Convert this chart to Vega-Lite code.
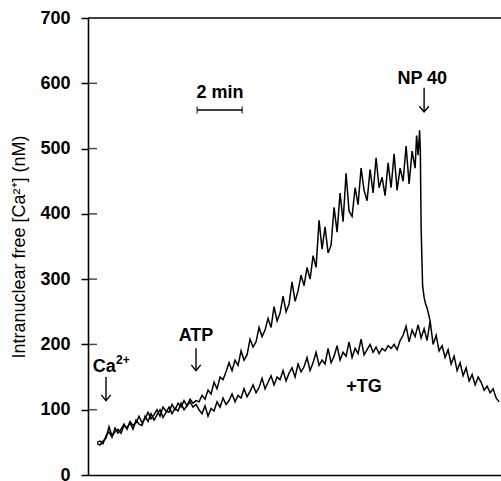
{
  "$schema": "https://vega.github.io/schema/vega-lite/v6.json",
  "width": 413,
  "height": 457,
  "autosize": {"type": "none"},
  "padding": {"left": 88, "top": 18, "right": 0, "bottom": 6},
  "background": "white",
  "config": {
    "view": {"stroke": null},
    "font": "Liberation Sans"
  },
  "datasets": {
    "trace": [
      {"s": "ATP", "t": 24, "v": 50}, {"s": "ATP", "t": 32, "v": 52}, {"s": "ATP", "t": 40, "v": 48}, {"s": "ATP", "t": 48, "v": 60},
      {"s": "ATP", "t": 56, "v": 66}, {"s": "ATP", "t": 64, "v": 58}, {"s": "ATP", "t": 72, "v": 72}, {"s": "ATP", "t": 80, "v": 64},
      {"s": "ATP", "t": 88, "v": 70}, {"s": "ATP", "t": 96, "v": 78}, {"s": "ATP", "t": 104, "v": 70}, {"s": "ATP", "t": 112, "v": 82},
      {"s": "ATP", "t": 120, "v": 76}, {"s": "ATP", "t": 128, "v": 80}, {"s": "ATP", "t": 136, "v": 90}, {"s": "ATP", "t": 144, "v": 80},
      {"s": "ATP", "t": 152, "v": 86}, {"s": "ATP", "t": 160, "v": 96}, {"s": "ATP", "t": 168, "v": 86}, {"s": "ATP", "t": 176, "v": 92},
      {"s": "ATP", "t": 184, "v": 100}, {"s": "ATP", "t": 192, "v": 90}, {"s": "ATP", "t": 200, "v": 104}, {"s": "ATP", "t": 208, "v": 98},
      {"s": "ATP", "t": 216, "v": 96}, {"s": "ATP", "t": 224, "v": 108}, {"s": "ATP", "t": 232, "v": 100}, {"s": "ATP", "t": 240, "v": 110},
      {"s": "ATP", "t": 248, "v": 104}, {"s": "ATP", "t": 256, "v": 114}, {"s": "ATP", "t": 264, "v": 106}, {"s": "ATP", "t": 272, "v": 116},
      {"s": "ATP", "t": 280, "v": 110}, {"s": "ATP", "t": 288, "v": 114}, {"s": "ATP", "t": 296, "v": 112}, {"s": "ATP", "t": 304, "v": 122},
      {"s": "ATP", "t": 312, "v": 116}, {"s": "ATP", "t": 320, "v": 130}, {"s": "ATP", "t": 328, "v": 124}, {"s": "ATP", "t": 336, "v": 142},
      {"s": "ATP", "t": 344, "v": 132}, {"s": "ATP", "t": 352, "v": 150}, {"s": "ATP", "t": 360, "v": 146}, {"s": "ATP", "t": 368, "v": 158},
      {"s": "ATP", "t": 376, "v": 172}, {"s": "ATP", "t": 384, "v": 160}, {"s": "ATP", "t": 392, "v": 176}, {"s": "ATP", "t": 400, "v": 168},
      {"s": "ATP", "t": 408, "v": 190}, {"s": "ATP", "t": 416, "v": 176}, {"s": "ATP", "t": 424, "v": 184}, {"s": "ATP", "t": 432, "v": 208},
      {"s": "ATP", "t": 440, "v": 196}, {"s": "ATP", "t": 448, "v": 204}, {"s": "ATP", "t": 456, "v": 226}, {"s": "ATP", "t": 464, "v": 212},
      {"s": "ATP", "t": 472, "v": 222}, {"s": "ATP", "t": 480, "v": 240}, {"s": "ATP", "t": 488, "v": 226}, {"s": "ATP", "t": 496, "v": 258},
      {"s": "ATP", "t": 504, "v": 236}, {"s": "ATP", "t": 512, "v": 248}, {"s": "ATP", "t": 520, "v": 274}, {"s": "ATP", "t": 528, "v": 250},
      {"s": "ATP", "t": 536, "v": 262}, {"s": "ATP", "t": 544, "v": 296}, {"s": "ATP", "t": 552, "v": 266}, {"s": "ATP", "t": 560, "v": 282},
      {"s": "ATP", "t": 568, "v": 306}, {"s": "ATP", "t": 576, "v": 290}, {"s": "ATP", "t": 584, "v": 318}, {"s": "ATP", "t": 592, "v": 300},
      {"s": "ATP", "t": 600, "v": 336}, {"s": "ATP", "t": 608, "v": 318}, {"s": "ATP", "t": 616, "v": 390}, {"s": "ATP", "t": 624, "v": 346},
      {"s": "ATP", "t": 632, "v": 380}, {"s": "ATP", "t": 640, "v": 340}, {"s": "ATP", "t": 648, "v": 352}, {"s": "ATP", "t": 656, "v": 410},
      {"s": "ATP", "t": 664, "v": 372}, {"s": "ATP", "t": 672, "v": 432}, {"s": "ATP", "t": 680, "v": 388}, {"s": "ATP", "t": 688, "v": 462},
      {"s": "ATP", "t": 696, "v": 404}, {"s": "ATP", "t": 704, "v": 396}, {"s": "ATP", "t": 712, "v": 440}, {"s": "ATP", "t": 720, "v": 414},
      {"s": "ATP", "t": 728, "v": 470}, {"s": "ATP", "t": 736, "v": 436}, {"s": "ATP", "t": 744, "v": 420}, {"s": "ATP", "t": 752, "v": 468},
      {"s": "ATP", "t": 760, "v": 432}, {"s": "ATP", "t": 768, "v": 486}, {"s": "ATP", "t": 776, "v": 440}, {"s": "ATP", "t": 784, "v": 456},
      {"s": "ATP", "t": 792, "v": 428}, {"s": "ATP", "t": 800, "v": 478}, {"s": "ATP", "t": 808, "v": 440}, {"s": "ATP", "t": 816, "v": 492},
      {"s": "ATP", "t": 824, "v": 436}, {"s": "ATP", "t": 832, "v": 470}, {"s": "ATP", "t": 840, "v": 450}, {"s": "ATP", "t": 848, "v": 504},
      {"s": "ATP", "t": 856, "v": 446}, {"s": "ATP", "t": 864, "v": 496}, {"s": "ATP", "t": 872, "v": 470}, {"s": "ATP", "t": 876, "v": 520},
      {"s": "ATP", "t": 880, "v": 490}, {"s": "ATP", "t": 884, "v": 528}, {"s": "ATP", "t": 886, "v": 496}, {"s": "ATP", "t": 888, "v": 380},
      {"s": "ATP", "t": 892, "v": 290}, {"s": "ATP", "t": 896, "v": 272}, {"s": "ATP", "t": 900, "v": 262}, {"s": "ATP", "t": 904, "v": 256},
      {"s": "ATP", "t": 912, "v": 236},

      {"s": "TG", "t": 24, "v": 48}, {"s": "TG", "t": 32, "v": 46}, {"s": "TG", "t": 40, "v": 52}, {"s": "TG", "t": 48, "v": 56},
      {"s": "TG", "t": 56, "v": 74}, {"s": "TG", "t": 64, "v": 60}, {"s": "TG", "t": 72, "v": 66}, {"s": "TG", "t": 80, "v": 70},
      {"s": "TG", "t": 88, "v": 64}, {"s": "TG", "t": 96, "v": 76}, {"s": "TG", "t": 104, "v": 72}, {"s": "TG", "t": 112, "v": 80},
      {"s": "TG", "t": 120, "v": 70}, {"s": "TG", "t": 128, "v": 84}, {"s": "TG", "t": 136, "v": 78}, {"s": "TG", "t": 144, "v": 76},
      {"s": "TG", "t": 152, "v": 90}, {"s": "TG", "t": 160, "v": 82}, {"s": "TG", "t": 168, "v": 94}, {"s": "TG", "t": 176, "v": 84},
      {"s": "TG", "t": 184, "v": 92}, {"s": "TG", "t": 192, "v": 100}, {"s": "TG", "t": 200, "v": 88}, {"s": "TG", "t": 208, "v": 96},
      {"s": "TG", "t": 216, "v": 104}, {"s": "TG", "t": 224, "v": 94}, {"s": "TG", "t": 232, "v": 102}, {"s": "TG", "t": 240, "v": 98},
      {"s": "TG", "t": 248, "v": 110}, {"s": "TG", "t": 256, "v": 100}, {"s": "TG", "t": 264, "v": 106}, {"s": "TG", "t": 272, "v": 112},
      {"s": "TG", "t": 280, "v": 104}, {"s": "TG", "t": 288, "v": 108}, {"s": "TG", "t": 296, "v": 100}, {"s": "TG", "t": 304, "v": 94},
      {"s": "TG", "t": 312, "v": 106}, {"s": "TG", "t": 320, "v": 90}, {"s": "TG", "t": 328, "v": 102}, {"s": "TG", "t": 336, "v": 98},
      {"s": "TG", "t": 344, "v": 112}, {"s": "TG", "t": 352, "v": 104}, {"s": "TG", "t": 360, "v": 118}, {"s": "TG", "t": 368, "v": 108},
      {"s": "TG", "t": 376, "v": 114}, {"s": "TG", "t": 384, "v": 124}, {"s": "TG", "t": 392, "v": 112}, {"s": "TG", "t": 400, "v": 122},
      {"s": "TG", "t": 408, "v": 118}, {"s": "TG", "t": 416, "v": 132}, {"s": "TG", "t": 424, "v": 120}, {"s": "TG", "t": 432, "v": 128},
      {"s": "TG", "t": 440, "v": 138}, {"s": "TG", "t": 448, "v": 126}, {"s": "TG", "t": 456, "v": 134}, {"s": "TG", "t": 464, "v": 148},
      {"s": "TG", "t": 472, "v": 132}, {"s": "TG", "t": 480, "v": 142}, {"s": "TG", "t": 488, "v": 152}, {"s": "TG", "t": 496, "v": 138},
      {"s": "TG", "t": 504, "v": 150}, {"s": "TG", "t": 512, "v": 146}, {"s": "TG", "t": 520, "v": 160}, {"s": "TG", "t": 528, "v": 144},
      {"s": "TG", "t": 536, "v": 156}, {"s": "TG", "t": 544, "v": 164}, {"s": "TG", "t": 552, "v": 150}, {"s": "TG", "t": 560, "v": 170},
      {"s": "TG", "t": 568, "v": 158}, {"s": "TG", "t": 576, "v": 166}, {"s": "TG", "t": 584, "v": 180}, {"s": "TG", "t": 592, "v": 160},
      {"s": "TG", "t": 600, "v": 172}, {"s": "TG", "t": 608, "v": 188}, {"s": "TG", "t": 616, "v": 168}, {"s": "TG", "t": 624, "v": 176},
      {"s": "TG", "t": 632, "v": 170}, {"s": "TG", "t": 640, "v": 194}, {"s": "TG", "t": 648, "v": 172}, {"s": "TG", "t": 656, "v": 182},
      {"s": "TG", "t": 664, "v": 198}, {"s": "TG", "t": 672, "v": 176}, {"s": "TG", "t": 680, "v": 188}, {"s": "TG", "t": 688, "v": 182},
      {"s": "TG", "t": 696, "v": 204}, {"s": "TG", "t": 704, "v": 180}, {"s": "TG", "t": 712, "v": 194}, {"s": "TG", "t": 720, "v": 186},
      {"s": "TG", "t": 728, "v": 208}, {"s": "TG", "t": 736, "v": 184}, {"s": "TG", "t": 744, "v": 192}, {"s": "TG", "t": 752, "v": 200},
      {"s": "TG", "t": 760, "v": 188}, {"s": "TG", "t": 768, "v": 196}, {"s": "TG", "t": 776, "v": 186}, {"s": "TG", "t": 784, "v": 194},
      {"s": "TG", "t": 792, "v": 190}, {"s": "TG", "t": 800, "v": 198}, {"s": "TG", "t": 808, "v": 194}, {"s": "TG", "t": 816, "v": 200},
      {"s": "TG", "t": 824, "v": 192}, {"s": "TG", "t": 832, "v": 206}, {"s": "TG", "t": 840, "v": 214}, {"s": "TG", "t": 848, "v": 228},
      {"s": "TG", "t": 856, "v": 204}, {"s": "TG", "t": 864, "v": 222}, {"s": "TG", "t": 872, "v": 212}, {"s": "TG", "t": 880, "v": 230},
      {"s": "TG", "t": 888, "v": 210}, {"s": "TG", "t": 896, "v": 224}, {"s": "TG", "t": 904, "v": 206}, {"s": "TG", "t": 912, "v": 236},
      {"s": "TG", "t": 920, "v": 200}, {"s": "TG", "t": 928, "v": 214}, {"s": "TG", "t": 936, "v": 190}, {"s": "TG", "t": 944, "v": 198},
      {"s": "TG", "t": 952, "v": 180}, {"s": "TG", "t": 960, "v": 192}, {"s": "TG", "t": 968, "v": 170}, {"s": "TG", "t": 976, "v": 182},
      {"s": "TG", "t": 984, "v": 160}, {"s": "TG", "t": 992, "v": 172}, {"s": "TG", "t": 1000, "v": 152}, {"s": "TG", "t": 1008, "v": 164},
      {"s": "TG", "t": 1016, "v": 144}, {"s": "TG", "t": 1024, "v": 154}, {"s": "TG", "t": 1032, "v": 138}, {"s": "TG", "t": 1040, "v": 150},
      {"s": "TG", "t": 1048, "v": 142}, {"s": "TG", "t": 1056, "v": 130}, {"s": "TG", "t": 1064, "v": 136}, {"s": "TG", "t": 1072, "v": 126},
      {"s": "TG", "t": 1080, "v": 132}, {"s": "TG", "t": 1088, "v": 118}, {"s": "TG", "t": 1096, "v": 112}
    ],
    "labels": [
      {"t": 43, "v": 166, "txt": "Ca", "fs": 18},
      {"t": 93, "v": 176, "txt": "2+", "fs": 12},
      {"t": 288, "v": 213, "txt": "ATP", "fs": 18},
      {"t": 891, "v": 607, "txt": "NP 40", "fs": 18},
      {"t": 736, "v": 135, "txt": "+TG", "fs": 18},
      {"t": 352, "v": 585, "txt": "2 min", "fs": 18}
    ],
    "arrows": [
      {"t": 48, "v1": 150, "v2": 114},
      {"t": 288, "v1": 194, "v2": 160},
      {"t": 896, "v1": 593, "v2": 556}
    ],
    "top": [{"v": 700}],
    "ticks": [{"v": 100}, {"v": 200}, {"v": 300}, {"v": 400}, {"v": 500}, {"v": 600}],
    "bar": [{"t1": 291, "t2": 411, "v": 559}],
    "caps": [{"t": 291, "v": 559}, {"t": 411, "v": 559}]
  },
  "layer": [
    {
      "data": {"name": "trace"},
      "mark": {"type": "line", "color": "black", "strokeWidth": 1.5, "clip": true},
      "encoding": {
        "x": {
          "field": "t", "type": "quantitative",
          "scale": {"domain": [0, 1101], "nice": false, "zero": false},
          "axis": {"title": null, "labels": false, "ticks": false, "grid": false, "domainColor": "black", "domainWidth": 1.6}
        },
        "y": {
          "field": "v", "type": "quantitative",
          "scale": {"domain": [0, 700], "nice": false},
          "axis": {
            "title": "Intranuclear free [Ca²⁺] (nM)",
            "titleFont": "Liberation Sans", "titleFontSize": 18, "titleFontWeight": "normal", "titleColor": "black", "titlePadding": 11,
            "values": [0, 100, 200, 300, 400, 500, 600, 700],
            "labelFont": "Liberation Sans", "labelFontSize": 18, "labelFontWeight": "bold", "labelColor": "black", "labelPadding": 11,
            "tickSize": 7, "tickColor": "black", "tickWidth": 1.5,
            "domainColor": "black", "domainWidth": 1.6, "grid": false
          }
        },
        "detail": {"field": "s"}
      }
    },
    {
      "data": {"name": "top"},
      "mark": {"type": "rule", "color": "black", "strokeWidth": 1.6},
      "encoding": {"y": {"field": "v", "type": "quantitative"}}
    },
    {
      "data": {"name": "ticks"},
      "mark": {"type": "tick", "orient": "horizontal", "color": "black", "size": 9, "thickness": 1.5, "xOffset": 4.5},
      "encoding": {
        "x": {"datum": 0, "type": "quantitative"},
        "y": {"field": "v", "type": "quantitative"}
      }
    },
    {
      "data": {"name": "labels"},
      "mark": {"type": "text", "font": "Liberation Sans", "fontWeight": "bold", "color": "black", "align": "center", "baseline": "middle"},
      "encoding": {
        "x": {"field": "t", "type": "quantitative"},
        "y": {"field": "v", "type": "quantitative"},
        "text": {"field": "txt"},
        "size": {"field": "fs", "type": "quantitative", "scale": null, "legend": null}
      }
    },
    {
      "data": {"name": "arrows"},
      "mark": {"type": "rule", "color": "black", "strokeWidth": 1.4},
      "encoding": {
        "x": {"field": "t", "type": "quantitative"},
        "y": {"field": "v1", "type": "quantitative"},
        "y2": {"field": "v2"}
      }
    },
    {
      "data": {"name": "arrows"},
      "mark": {"type": "point", "shape": "M-1,-1.2L0,0L1,-1.2", "filled": false, "color": "black", "strokeWidth": 1.4, "size": 90, "opacity": 1},
      "encoding": {
        "x": {"field": "t", "type": "quantitative"},
        "y": {"field": "v2", "type": "quantitative"}
      }
    },
    {
      "data": {"name": "bar"},
      "mark": {"type": "rule", "color": "black", "strokeWidth": 1.4},
      "encoding": {
        "x": {"field": "t1", "type": "quantitative"},
        "x2": {"field": "t2"},
        "y": {"field": "v", "type": "quantitative"}
      }
    },
    {
      "data": {"name": "caps"},
      "mark": {"type": "tick", "orient": "vertical", "color": "black", "size": 7, "thickness": 1.4},
      "encoding": {
        "x": {"field": "t", "type": "quantitative"},
        "y": {"field": "v", "type": "quantitative"}
      }
    }
  ]
}
